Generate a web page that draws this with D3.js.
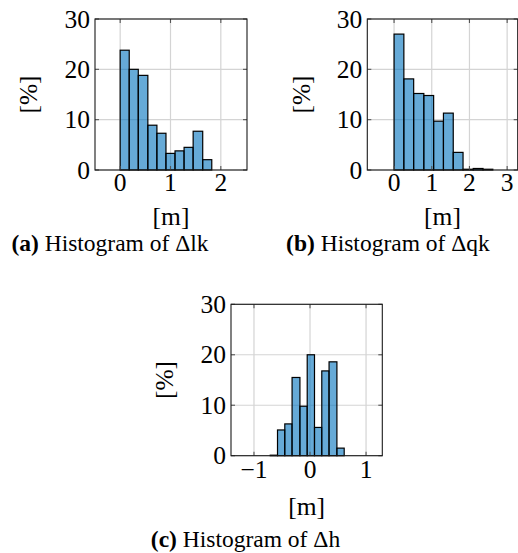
<!DOCTYPE html>
<html>
<head>
<meta charset="utf-8">
<script src="https://cdn.jsdelivr.net/npm/d3@7"></script>
<style>
  html, body { margin: 0; padding: 0; background: #fff; }
  svg { display: block; }
  text { font-family: "Liberation Serif", "Times New Roman", serif; fill: #000; }
</style>
</head>
<body>
<svg id="chart" width="518" height="553"></svg>
<script>
// bin edges [m] and share of samples per bin [%]
const lkEdges = [0, 0.18, 0.36, 0.55, 0.73, 0.91, 1.09, 1.27, 1.45, 1.64, 1.82];
const lkPct = [23.8, 20.0, 18.8, 8.9, 7.3, 3.3, 3.8, 4.5, 7.7, 2.05];

const qkEdges = [0, 0.26, 0.52, 0.79, 1.05, 1.31, 1.57, 1.83, 2.10, 2.36, 2.62];
const qkPct = [27.0, 18.1, 15.2, 14.8, 9.7, 11.3, 3.5, 0.15, 0.3, 0.15];

const hEdges = [-0.71, -0.58, -0.45, -0.32, -0.18, -0.05, 0.08, 0.21, 0.34, 0.48, 0.61];
const hPct = [0.1, 5.1, 6.3, 15.5, 9.8, 20.0, 5.6, 16.8, 18.6, 1.5];

const yTicks = [0, 10, 20, 30];
const lkTicks = [0, 1, 2];
const qkTicks = [0, 1, 2, 3];
const hTicks = [-1, 0, 1];

const panels = [
  { tag: "(a)", title: "Histogram of Δlk", edges: lkEdges, pct: lkPct, xTicks: lkTicks,
    xDomain: [-0.5, 2.52], left: 95, top: 19, w: 152, h: 151,
    yLabelX: 37, tickDy: 21, mDy: 55, capDy: 80.5, capX: 110 },
  { tag: "(b)", title: "Histogram of Δqk", edges: qkEdges, pct: qkPct, xTicks: qkTicks,
    xDomain: [-0.71, 3.28], left: 367.3, top: 19, w: 150.4, h: 151,
    yLabelX: 310, tickDy: 21, mDy: 55, capDy: 80.5, capX: 388 },
  { tag: "(c)", title: "Histogram of Δh", edges: hEdges, pct: hPct, xTicks: hTicks,
    xDomain: [-1.41, 1.29], left: 231, top: 304.3, w: 151.3, h: 151.4,
    yLabelX: 173, tickDy: 22.5, mDy: 59, capDy: 91.6, capX: 245.5 },
];

const settings = {
  tickFont: 25.5,
  capFont: 23.5,
  fill: "#0072BD",
  fillOpacity: 0.6,
  grid: "#d4d4d4",
  tickLen: 4,
};

const svg = d3.select("#chart");
const fmt = d => (d < 0 ? "\u2212" + Math.abs(d) : String(d));

function drawPanel(p) {
  const g = svg.append("g").attr("transform", `translate(${p.left},${p.top})`);
  const x = d3.scaleLinear().domain(p.xDomain).range([0, p.w]);
  const y = d3.scaleLinear().domain([0, 30]).range([p.h, 0]);

  // grid
  g.append("g").selectAll("line.vg").data(p.xTicks).join("line")
    .attr("x1", d => x(d)).attr("x2", d => x(d))
    .attr("y1", 0).attr("y2", p.h)
    .attr("stroke", settings.grid).attr("stroke-width", 1.2);
  g.append("g").selectAll("line.hg").data(yTicks).join("line")
    .attr("x1", 0).attr("x2", p.w)
    .attr("y1", d => y(d)).attr("y2", d => y(d))
    .attr("stroke", settings.grid).attr("stroke-width", 1.2);

  // bars
  const bins = p.pct.map((v, i) => ({ x0: p.edges[i], x1: p.edges[i + 1], v }));
  g.append("g").selectAll("rect").data(bins).join("rect")
    .attr("x", d => x(d.x0))
    .attr("y", d => y(d.v))
    .attr("width", d => x(d.x1) - x(d.x0))
    .attr("height", d => y(0) - y(d.v))
    .attr("fill", settings.fill)
    .attr("fill-opacity", settings.fillOpacity)
    .attr("stroke", "#000")
    .attr("stroke-width", 1.2);

  // tick marks, inside, on all four sides
  const tl = settings.tickLen;
  const ticks = g.append("g").attr("stroke", "#555").attr("stroke-width", 1.1);
  p.xTicks.forEach(t => {
    ticks.append("line").attr("x1", x(t)).attr("x2", x(t)).attr("y1", p.h).attr("y2", p.h - tl);
    ticks.append("line").attr("x1", x(t)).attr("x2", x(t)).attr("y1", 0).attr("y2", tl);
  });
  yTicks.forEach(t => {
    ticks.append("line").attr("x1", 0).attr("x2", tl).attr("y1", y(t)).attr("y2", y(t));
    ticks.append("line").attr("x1", p.w).attr("x2", p.w - tl).attr("y1", y(t)).attr("y2", y(t));
  });

  // frame
  g.append("rect")
    .attr("width", p.w).attr("height", p.h)
    .attr("fill", "none").attr("stroke", "#1a1a1a").attr("stroke-width", 1.1);

  // tick labels
  g.append("g").selectAll("text").data(yTicks).join("text")
    .attr("x", -5).attr("y", d => y(d)).attr("dy", "0.34em")
    .attr("text-anchor", "end").attr("font-size", settings.tickFont)
    .text(fmt);
  g.append("g").selectAll("text").data(p.xTicks).join("text")
    .attr("x", d => x(d)).attr("y", p.h + p.tickDy)
    .attr("text-anchor", "middle").attr("font-size", settings.tickFont)
    .text(fmt);

  // axis labels
  g.append("text")
    .attr("x", p.w / 2).attr("y", p.h + p.mDy)
    .attr("text-anchor", "middle").attr("font-size", settings.tickFont)
    .text("[m]");
  svg.append("text")
    .attr("transform", `translate(${p.yLabelX},${p.top + p.h / 2}) rotate(-90)`)
    .attr("text-anchor", "middle").attr("font-size", settings.tickFont)
    .text("[%]");

  // caption
  const cap = svg.append("text")
    .attr("x", p.capX).attr("y", p.top + p.h + p.capDy)
    .attr("text-anchor", "middle").attr("font-size", settings.capFont);
  cap.append("tspan").attr("font-weight", "bold").text(p.tag);
  cap.append("tspan").text(" " + p.title);
}

panels.forEach(drawPanel);
</script>
</body>
</html>
